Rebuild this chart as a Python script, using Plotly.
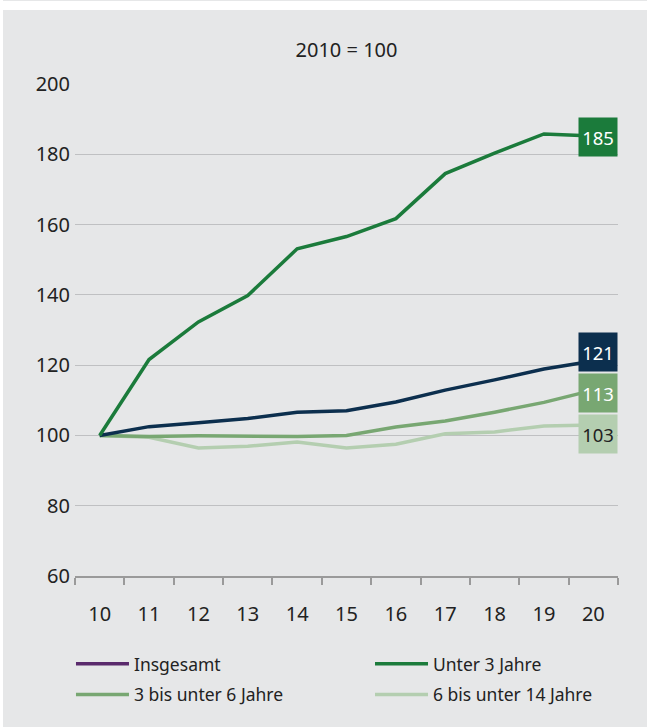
import plotly.graph_objects as go

years = [10, 11, 12, 13, 14, 15, 16, 17, 18, 19, 20]
year_labels = ["10", "11", "12", "13", "14", "15", "16", "17", "18", "19", "20"]
insgesamt = [100, 102.5, 103.6, 104.8, 106.6, 107.0, 109.5, 112.9, 115.8, 118.9, 121.2]
unter3 = [100, 121.6, 132.3, 139.8, 153.1, 156.6, 161.7, 174.5, 180.3, 185.8, 185.2]
u3bis6 = [100, 99.7, 99.9, 99.8, 99.7, 100.0, 102.4, 104.1, 106.6, 109.4, 112.9]
u6bis14 = [100, 99.5, 96.4, 96.9, 98.1, 96.4, 97.5, 100.5, 101.0, 102.7, 103.0]
end_labels = ["121", "185", "113", "103"]
y_ticks = [60, 80, 100, 120, 140, 160, 180, 200]

NAVY = "#0c2f4e"
GREEN = "#1b7b3b"
MID = "#78a772"
LIGHT = "#b4ceb0"
PURPLE = "#5a2a6c"
BG = "#e6e7e8"
FONT = "Noto Sans"
TXT = "#222222"

fig = go.Figure()
fig.add_trace(go.Scatter(x=years, y=u6bis14, mode="lines", line=dict(color=LIGHT, width=3.5),
                         name="6 bis unter 14 Jahre", legend="legend2", legendgroup="d",
                         legendrank=2))
fig.add_trace(go.Scatter(x=years, y=u3bis6, mode="lines", line=dict(color=MID, width=3.5),
                         name="3 bis unter 6 Jahre", legend="legend", legendgroup="c",
                         legendrank=2))
fig.add_trace(go.Scatter(x=years, y=insgesamt, mode="lines", line=dict(color=NAVY, width=3.5),
                         name="Insgesamt", showlegend=False))
fig.add_trace(go.Scatter(x=years, y=unter3, mode="lines", line=dict(color=GREEN, width=3.5),
                         name="Unter 3 Jahre", legend="legend2", legendgroup="b",
                         legendrank=1))
fig.add_trace(go.Scatter(x=[None], y=[None], mode="lines", line=dict(color=PURPLE, width=3.5),
                         name="Insgesamt", legend="legend", legendgroup="a", legendrank=1))

last = len(years) - 1
label_specs = [
    (insgesamt[-1], end_labels[0], NAVY, "white", 9),
    (unter3[-1], end_labels[1], GREEN, "white", -1),
    (u3bis6[-1], end_labels[2], MID, "white", -3),
    (u6bis14[-1], end_labels[3], LIGHT, TXT, -9),
]
for val, txt, bg, fc, ys in label_specs:
    fig.add_annotation(x=last, y=val, text=txt, showarrow=False,
                       bgcolor=bg, font=dict(color=fc, size=18.5, family=FONT),
                       width=34, height=34, borderpad=2, xshift=5, yshift=ys)

# white frame strips of the original graphic
fig.add_shape(type="rect", xref="paper", yref="paper", xsizemode="pixel", ysizemode="pixel",
              xanchor=0, yanchor=1, x0=-80, x1=700, y0=74, y1=83,
              fillcolor="white", line_width=0, layer="below")
fig.add_shape(type="rect", xref="paper", yref="paper", xsizemode="pixel", ysizemode="pixel",
              xanchor=0, yanchor=1, x0=-80, x1=-72, y0=-800, y1=84,
              fillcolor="white", line_width=0, layer="below")

legend_common = dict(orientation="v", yanchor="top", xanchor="left",
                     itemwidth=53, tracegroupgap=5, traceorder="grouped",
                     font=dict(size=17.5, family=FONT, color=TXT),
                     bgcolor="rgba(0,0,0,0)")

fig.update_layout(
    width=647, height=727,
    margin=dict(l=75, r=29, t=84, b=151, autoexpand=False),
    paper_bgcolor=BG, plot_bgcolor=BG,
    font=dict(family=FONT, size=20, color=TXT),
    title=dict(text="2010 = 100", x=0.5, xanchor="center", xref="paper",
               y=1 - 50 / 727, yref="container", yanchor="middle",
               font=dict(size=20, family=FONT, color=TXT)),
    showlegend=True,
    legend=dict(x=-0.0074, y=-0.142, **legend_common),
    legend2=dict(x=0.5433, y=-0.142, **legend_common),
    xaxis=dict(type="category", tickvals=years, ticktext=year_labels, tickson="boundaries",
               range=[-0.5, 10.5], showgrid=False, showline=True, linecolor="#9a9a9a",
               linewidth=1.5, ticks="outside", ticklen=7, tickcolor="#9a9a9a", tickwidth=1.5,
               ticklabelstandoff=19, zeroline=False, fixedrange=True,
               tickfont=dict(size=20)),
    yaxis=dict(range=[60, 200], tickvals=y_ticks, showgrid=True, gridcolor="#bfc0c2",
               gridwidth=1.3, zeroline=False, showline=False, ticks="",
               ticklabelstandoff=4, fixedrange=True, tickfont=dict(size=20)),
)

fig.write_html("out.html", config={"displayModeBar": False},
               post_script="document.body.style.margin='0px';document.body.style.overflow='hidden';")
